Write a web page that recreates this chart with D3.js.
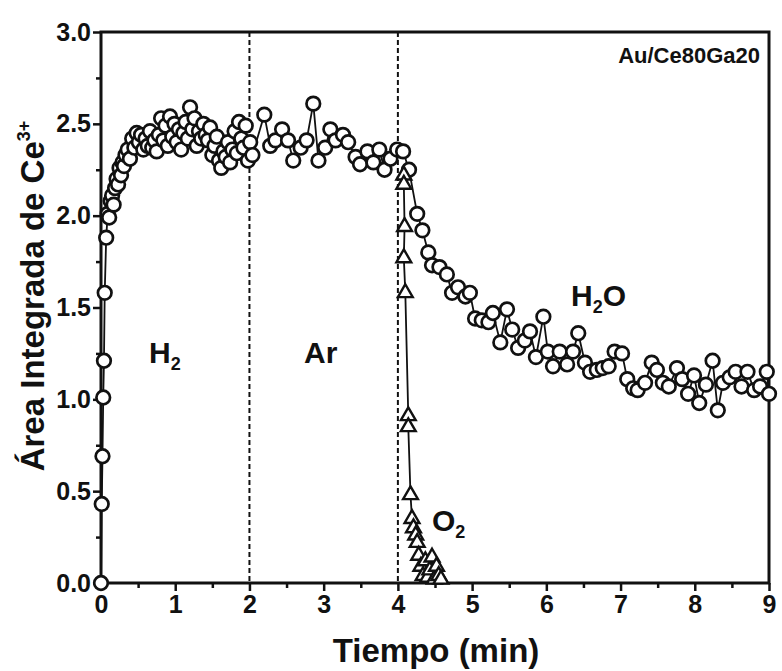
<!DOCTYPE html>
<html>
<head>
<meta charset="utf-8">
<script src="https://cdn.jsdelivr.net/npm/d3@7"></script>
<style>
  body { margin: 0; background: #fff; }
  svg text { font-family: "Liberation Sans", Arial, sans-serif; font-weight: bold; fill: #111; }
</style>
</head>
<body>
<svg id="chart" width="782" height="671"></svg>
<script>
'use strict';

// Ce3+ integrated area (circles), time in minutes
const ceTime = [
  0.00, 0.01, 0.02, 0.03, 0.04, 0.05, 0.07, 0.09, 0.11, 0.13, 0.15, 0.17, 0.19, 0.21, 0.23, 0.25,
  0.27, 0.29, 0.31, 0.33, 0.36, 0.39, 0.42, 0.45, 0.48, 0.51, 0.54, 0.57, 0.60, 0.63, 0.66, 0.69,
  0.72, 0.75, 0.78, 0.81, 0.84, 0.87, 0.90, 0.93, 0.96, 0.99, 1.02, 1.05, 1.08, 1.11, 1.14, 1.17,
  1.20, 1.23, 1.26, 1.29, 1.32, 1.35, 1.38, 1.41, 1.44, 1.47, 1.50, 1.53, 1.56, 1.59, 1.62, 1.65,
  1.68, 1.71, 1.74, 1.77, 1.80, 1.83, 1.86, 1.89, 1.92, 1.95, 1.98, 2.01, 2.04,
  2.20, 2.28, 2.35, 2.44, 2.52, 2.59, 2.69, 2.77, 2.86, 2.93, 3.02, 3.09, 3.16, 3.26, 3.33, 3.43,
  3.49, 3.59, 3.67, 3.75, 3.82, 3.90, 3.99, 4.07, 4.15,
  4.26, 4.33, 4.41, 4.46, 4.56, 4.66, 4.73, 4.81, 4.91, 4.97, 5.04, 5.13, 5.22, 5.28, 5.38, 5.47,
  5.54, 5.62, 5.71, 5.78, 5.86, 5.96, 6.02, 6.09, 6.18, 6.28, 6.36, 6.43, 6.52, 6.59, 6.68, 6.76,
  6.84, 6.92, 7.02, 7.09, 7.17, 7.23, 7.33, 7.42, 7.49, 7.57, 7.65, 7.76, 7.83, 7.91, 7.99, 8.06,
  8.15, 8.24, 8.31, 8.38, 8.47, 8.55, 8.63, 8.71, 8.80, 8.88, 8.97, 9.00
];
const ceValue = [
  0.00, 0.43, 0.69, 1.01, 1.21, 1.58, 1.88, 2.01, 1.99, 2.08, 2.11, 2.06, 2.15, 2.20, 2.17, 2.26,
  2.22, 2.29, 2.27, 2.33, 2.36, 2.31, 2.42, 2.37, 2.45, 2.40, 2.44, 2.36, 2.42, 2.38, 2.46, 2.37,
  2.41, 2.35, 2.44, 2.53, 2.41, 2.49, 2.38, 2.54, 2.43, 2.50, 2.40, 2.47, 2.36, 2.45, 2.51, 2.42,
  2.59, 2.47, 2.53, 2.38, 2.46, 2.42, 2.50, 2.44, 2.41, 2.48, 2.33, 2.38, 2.43, 2.30, 2.26, 2.35,
  2.32, 2.40, 2.29, 2.36, 2.46, 2.34, 2.51, 2.42, 2.37, 2.49, 2.30, 2.40, 2.33,
  2.55, 2.38, 2.41, 2.47, 2.41, 2.30, 2.37, 2.41, 2.61, 2.30, 2.37, 2.47, 2.41, 2.44, 2.40, 2.32,
  2.28, 2.35, 2.29, 2.36, 2.25, 2.31, 2.36, 2.35, 2.25,
  2.01, 1.92, 1.80, 1.73, 1.72, 1.68, 1.58, 1.61, 1.56, 1.58, 1.44, 1.43, 1.42, 1.47, 1.31, 1.49,
  1.38, 1.28, 1.32, 1.37, 1.23, 1.45, 1.26, 1.18, 1.26, 1.19, 1.26, 1.36, 1.20, 1.15, 1.16, 1.17,
  1.18, 1.26, 1.25, 1.11, 1.06, 1.05, 1.09, 1.20, 1.16, 1.09, 1.07, 1.17, 1.11, 1.03, 1.13, 0.98,
  1.08, 1.21, 0.94, 1.09, 1.12, 1.15, 1.07, 1.15, 1.05, 1.07, 1.15, 1.03
];

// O2 signal (triangles)
const o2Time = [
  4.08, 4.08, 4.09, 4.08, 4.10, 4.14, 4.14, 4.17, 4.19, 4.21, 4.24, 4.26, 4.28, 4.31, 4.34,
  4.37, 4.40, 4.43, 4.46, 4.49, 4.52, 4.55, 4.58
];
const o2Value = [
  2.22, 2.17, 1.94, 1.77, 1.58, 0.91, 0.85, 0.48, 0.35, 0.30, 0.26, 0.22, 0.15, 0.09, 0.04,
  0.12, 0.03, 0.07, 0.14, 0.02, 0.09, 0.04, 0.02
];

const xTicks = [0, 1, 2, 3, 4, 5, 6, 7, 8, 9];
const yTicks = [0, 0.5, 1.0, 1.5, 2.0, 2.5, 3.0];
const stepMarks = [2, 4];   // gas switch times

const svg = d3.select("#chart");
const x = d3.scaleLinear().domain([0, 9]).range([101, 769]);
const y = d3.scaleLinear().domain([0, 3]).range([583, 32]);

// minor ticks
const xMinor = d3.range(0.5, 9, 1);
const yMinor = d3.range(0.25, 3, 0.5);

let xAxis = svg.append("g").attr("transform", "translate(0," + y(0) + ")")
    .call(d3.axisBottom(x).tickValues(xTicks).tickFormat(d3.format("d")).tickSize(8).tickPadding(4));
let xAxisMinor = svg.append("g").attr("transform", "translate(0," + y(0) + ")")
    .call(d3.axisBottom(x).tickValues(xMinor).tickFormat("").tickSize(5));
let yAxis = svg.append("g").attr("transform", "translate(" + x(0) + ",0)")
    .call(d3.axisLeft(y).tickValues(yTicks).tickFormat(d3.format(".1f")).tickSize(8).tickPadding(2));
let yAxisMinor = svg.append("g").attr("transform", "translate(" + x(0) + ",0)")
    .call(d3.axisLeft(y).tickValues(yMinor).tickFormat("").tickSize(5));

[xAxis, xAxisMinor, yAxis, yAxisMinor].forEach(a => {
    a.select(".domain").remove();
    a.selectAll("line").attr("stroke", "#111").attr("stroke-width", 2.5);
    a.selectAll("text").style("font-size", "25px").attr("fill", "#111");
});

// dashed switch lines
svg.selectAll(".step").data(stepMarks).enter().append("line")
    .attr("x1", d => x(d)).attr("x2", d => x(d))
    .attr("y1", y(3)).attr("y2", y(0))
    .attr("stroke", "#111").attr("stroke-width", 2)
    .attr("stroke-dasharray", "5,3");

// frame
svg.append("rect")
    .attr("x", x(0)).attr("y", y(3))
    .attr("width", x(9) - x(0)).attr("height", y(0) - y(3))
    .attr("fill", "none").attr("stroke", "#111").attr("stroke-width", 3);

const ceData = ceTime.map((t, i) => ({t: t, v: ceValue[i]}));
const o2Data = o2Time.map((t, i) => ({t: t, v: o2Value[i]}));

const line = d3.line().x(d => x(d.t)).y(d => y(d.v));

svg.append("path").datum(ceData).attr("d", line)
    .attr("fill", "none").attr("stroke", "#111").attr("stroke-width", 1.8);
svg.selectAll(".ce").data(ceData).enter().append("circle")
    .attr("cx", d => x(d.t)).attr("cy", d => y(d.v)).attr("r", 6.8)
    .attr("fill", "#fff").attr("stroke", "#111").attr("stroke-width", 2.7);

svg.append("path").datum(o2Data).attr("d", line)
    .attr("fill", "none").attr("stroke", "#111").attr("stroke-width", 1.8);
svg.selectAll(".o2").data(o2Data).enter().append("path")
    .attr("d", d3.symbol(d3.symbolTriangle, 95))
    .attr("transform", d => "translate(" + x(d.t) + "," + y(d.v) + ")")
    .attr("fill", "#fff").attr("stroke", "#111").attr("stroke-width", 2.4);

// labels with subscripts
function label(px, py, parts, size) {
    let t = svg.append("text").attr("x", px).attr("y", py).style("font-size", size + "px");
    parts.forEach(p => {
        let s = t.append("tspan").text(p[0]);
        if (p[1] === "sub") s.style("font-size", (size * 0.6) + "px").attr("dy", size * 0.22);
        if (p[1] === "back") s.attr("dy", -size * 0.22);
    });
    return t;
}
label(149, 363, [["H"], ["2", "sub"]], 30);
label(304, 363, [["Ar"]], 30);
label(432, 531, [["O"], ["2", "sub"]], 30);
label(571, 306, [["H"], ["2", "sub"], ["O", "back"]], 30);
svg.append("text").attr("x", 760).attr("y", 63).attr("text-anchor", "end")
    .style("font-size", "22px").text("Au/Ce80Ga20");

// axis titles
svg.append("text").attr("x", 436).attr("y", 662).attr("text-anchor", "middle")
    .style("font-size", "33px").text("Tiempo (min)");
let yt = svg.append("text").attr("transform", "translate(44,296) rotate(-90)")
    .attr("text-anchor", "middle").style("font-size", "33px");
yt.append("tspan").text("Área Integrada de Ce");
yt.append("tspan").text("3+").style("font-size", "18px").attr("dy", -14);
</script>
</body>
</html>
